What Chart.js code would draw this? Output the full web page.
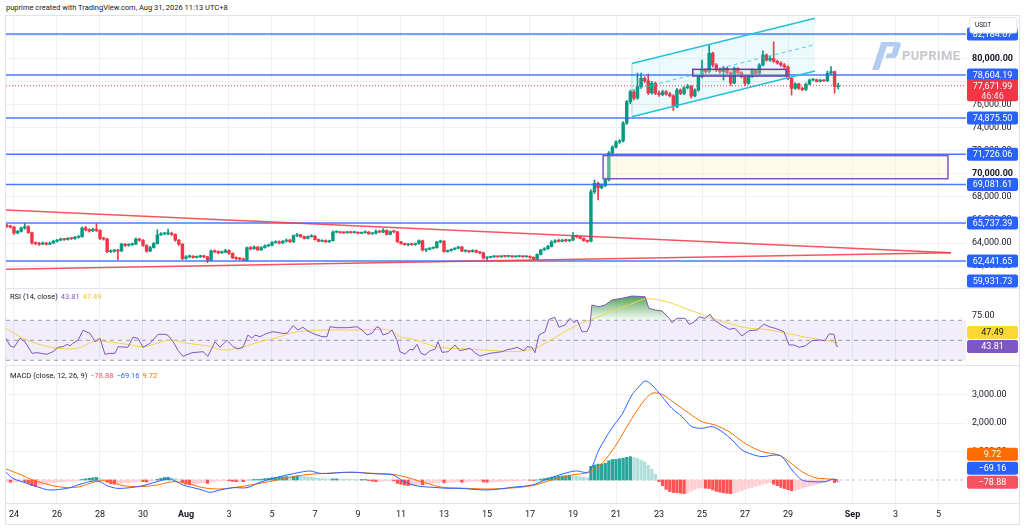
<!DOCTYPE html>
<html>
<head>
<meta charset="utf-8">
<title>BTCUSDT 4H</title>
<script src="https://cdn.jsdelivr.net/npm/chart.js@4.4.1/dist/chart.umd.min.js"></script>
<style>
  body { margin: 0; background: #fff; font-family: Roboto, "Liberation Sans", sans-serif; color: #131722; }
  #page { position: relative; width: 1024px; height: 531px; overflow: hidden; }
  #header { position: absolute; left: 6px; top: 3px; font-size: 7.5px; white-space: nowrap; }
  #frame { position: absolute; left: 5px; top: 15px; width: 1015px; height: 510px; border: 1px solid #e0e3eb; box-sizing: border-box; }
  .pane { position: absolute; left: 6px; width: 1014px; }
  #pricePane { top: 16px; height: 272px; }
  #rsiPane { top: 289px; height: 76px; }
  #macdPane { top: 366px; height: 158px; }
  .sep { position: absolute; left: 6px; width: 1013px; height: 1px; background: #e0e3eb; }
  .legend { position: absolute; left: 10px; font-size: 7.5px; white-space: nowrap; }
  .legend span { margin-left: 3px; }
  #logo { position: absolute; left: 868px; top: 40px; }
  #brand { position: absolute; left: 902px; top: 48px; font-size: 13px; font-weight: bold; color: #c4c7cc; letter-spacing: 0.3px; }
</style>
</head>
<body>
<div id="page">
  <div id="header">puprime created with TradingView.com, Aug 31, 2026 11:13 UTC+8</div>
  <div id="frame"></div>
  <div class="pane" id="pricePane"><canvas id="priceChart"></canvas></div>
  <div class="sep" style="top:288px"></div>
  <div class="pane" id="rsiPane"><canvas id="rsiChart"></canvas></div>
  <div class="sep" style="top:365px"></div>
  <div class="pane" id="macdPane"><canvas id="macdChart"></canvas></div>
  <div class="sep" style="top:503px"></div>
  <svg id="logo" width="34" height="32" viewBox="0 0 34 32">
    <polygon points="4,30 11,30 19,6 12,6" fill="#b3cdf0"/>
    <path d="M13,2 L30,2 Q33.5,2 32.5,6 L29.5,15 Q28.5,18 25,18 L17.5,18 L19,13.5 L23.5,13.5 L25.8,6.5 L12,6.5 Z" fill="#b3cdf0"/>
  </svg>
  <div id="brand">PUPRIME</div>
  <div class="legend" style="top:292px">RSI (14, close)<span style="color:#7e57c2">43.81</span><span style="color:#f2c230">47.49</span></div>
  <div class="legend" style="top:371px">MACD (close, 12, 26, 9)<span style="color:#f7525f">&minus;78.88</span><span style="color:#2962ff">&minus;69.16</span><span style="color:#ff6d00">9.72</span></div>
</div>

<script>
// ===== 4h candles, BTCUSDT, Jul 23 16:00 -> Aug 31 08:00 (x in days from Jul 24) =====
const firstCandleDay = -2 / 6;
const candleStep = 1 / 6;
const firstOpen = 65500;

const closes = [
  65450, 65380,
  64870, 65000, 65300, 65420, 64900, 64000,
  63950, 63900, 64000, 63900, 64000, 64150,
  64250, 64350, 64300, 64400, 64380, 64500,
  64550, 65300, 65150, 65050, 65200, 65100,
  64400, 64350, 63250, 63300, 63350, 63300,
  63900, 63800, 63850, 63900, 64350, 64250,
  63800, 63300, 63600, 63950, 64700, 64800,
  64800, 64850, 64750, 64250, 63900, 62650,
  62800, 62850, 62750, 62800, 62850, 62800,
  62500, 63300, 63250, 63150, 63200, 63350,
  63100, 62700, 62650, 62600, 62500, 63600,
  63500, 63650, 63400, 63600, 63750, 63800,
  64050, 64100, 64000, 64150, 64250, 64100,
  64630, 64700, 64550, 64400, 64550, 64600,
  64300, 64150, 64200, 64100, 64200, 64950,
  64950, 64900, 64880, 64950, 64900, 64920,
  64850, 64900, 64950, 64800, 64850, 65000,
  64950, 65100, 64750, 65000, 64980, 64100,
  63950, 63850, 63900, 63850, 63950, 64200,
  63400, 63450, 63550, 63600, 64100, 64150,
  63250, 63350, 63450, 63550, 63650, 63300,
  63300, 63250, 63350, 63200, 63150, 62700,
  62750, 62800, 62820, 62800, 62850, 62830,
  62850, 62800, 62820, 62850, 62800, 62830,
  62750, 62600, 63000, 63400, 63500, 63700,
  64100, 64200, 64150, 64250, 64200, 64250,
  64600, 64550, 64400, 64200, 64150, 68460,
  69190, 68800, 69000, 69500, 71830, 72350,
  72780, 72870, 74430, 76290, 77160, 76600,
  77590, 78320, 78100, 77050, 77900, 77020,
  76900, 77150, 76950, 76800, 75850, 77300,
  77000, 77500, 77650, 76780, 77300, 78460,
  79040, 78900, 80500, 79480, 79040, 78900,
  79200, 78800, 77900, 79190, 78800, 78460,
  77890, 78460, 79040, 78750, 79480, 80350,
  79910, 80050, 79800, 79650, 79480, 79300,
  78320, 77450, 77830, 77450, 77350, 77800,
  78170, 78200, 78050, 78150, 78100, 78760,
  78900, 77600, 77671.99
];

const highs = [
  65650, 65550,
  65450, 65100, 65380, 65700, 65500, 64950,
  64100, 64050, 64100, 64050, 64080, 64250,
  64320, 64420, 64400, 64480, 64450, 64580,
  64650, 65400, 65450, 65250, 65300, 65700,
  65150, 64500, 64400, 63400, 63450, 63450,
  63980, 63950, 63950, 64000, 64450, 64420,
  64300, 63850, 63700, 64050, 65150, 64900,
  64900, 65200, 64950, 64800, 64300, 63950,
  62900, 62950, 62900, 62880, 62950, 62920,
  62850, 63400, 63400, 63320, 63300, 63450,
  63400, 63150, 62800, 62750, 62700, 63650,
  63700, 63750, 63700, 63680, 63850, 63900,
  64120, 64200, 64180, 64220, 64350, 64320,
  64700, 64850, 64750, 64600, 64620, 64720,
  64650, 64350, 64280, 64280, 64250, 65050,
  65050, 65000, 64980, 65020, 65000, 65000,
  64980, 64950, 65050, 65000, 64900, 65150,
  65100, 65250, 65150, 65050, 65080, 65000,
  64150, 64000, 63950, 63980, 64000, 64280,
  64250, 63500, 63600, 63650, 64150, 64250,
  64200, 63400, 63500, 63600, 63720, 63700,
  63400, 63350, 63420, 63400, 63250, 63200,
  62800, 62850, 62880, 62870, 62900, 62900,
  62900, 62900, 62870, 62900, 62900, 62880,
  62880, 62800, 63050, 63450, 63600, 63800,
  64200, 64300, 64350, 64320, 64350, 64300,
  64900, 64700, 64600, 64450, 64250, 68650,
  69480, 69300, 69150, 69650, 71950, 72450,
  72900, 73000, 74550, 76400, 77300, 77250,
  78780, 78780, 78450, 78700, 78050, 78000,
  77200, 77300, 77250, 77100, 76900, 77450,
  77400, 77600, 77800, 77700, 77400, 78550,
  79910, 79150, 81220, 80600, 79600, 79200,
  79350, 79300, 78900, 79300, 79250, 78900,
  78550, 78600, 79150, 79100, 79600, 80700,
  80450, 80200, 81500, 79900, 79750, 79600,
  79400, 78400, 77950, 77900, 77550, 77900,
  78250, 78300, 78250, 78250, 78200, 78950,
  79330, 78950, 77900
];

const lows = [
  65350, 65300,
  64750, 64800, 64950, 65200, 64850, 63900,
  63850, 63800, 63850, 63820, 63850, 63950,
  64080, 64200, 64220, 64250, 64300, 64320,
  64420, 64500, 65050, 64950, 65000, 65000,
  64300, 64250, 63150, 63150, 63200, 62560,
  63250, 63700, 63720, 63780, 63850, 64150,
  63700, 63200, 63250, 63550, 63900, 64650,
  64700, 64700, 64650, 64150, 63800, 62550,
  62600, 62720, 62680, 62700, 62740, 62720,
  62300, 62450, 63150, 63050, 63100, 63150,
  63000, 62650, 62550, 62500, 62450, 62450,
  63400, 63450, 63350, 63350, 63550, 63680,
  63750, 63980, 63920, 63950, 64080, 64050,
  64050, 64550, 64480, 64350, 64350, 64500,
  64250, 64100, 64100, 64050, 64050, 64150,
  64880, 64850, 64820, 64850, 64850, 64850,
  64800, 64800, 64850, 64750, 64750, 64800,
  64900, 64900, 64700, 64700, 64900, 64050,
  63900, 63800, 63750, 63800, 63800, 63900,
  63300, 63250, 63400, 63500, 63550, 64000,
  63200, 63200, 63300, 63400, 63500, 63250,
  63200, 63150, 63200, 63150, 63050, 62600,
  62500, 62700, 62750, 62750, 62750, 62780,
  62780, 62750, 62760, 62780, 62750, 62750,
  62650, 62500, 62550, 62950, 63350, 63450,
  63650, 64000, 64080, 64100, 64100, 64120,
  64200, 64450, 64350, 64150, 64050, 64100,
  68300, 67740, 68700, 68900, 69400, 71700,
  72250, 72650, 72800, 74300, 76100, 76450,
  76500, 77450, 77950, 76900, 76950, 76900,
  76750, 76800, 76850, 76700, 75520, 75750,
  76900, 76900, 77400, 76600, 76700, 77200,
  78350, 78750, 78800, 79300, 78900, 78750,
  78170, 78700, 77700, 77850, 78700, 78350,
  77700, 77800, 78400, 78600, 78650, 79400,
  79800, 79800, 79700, 79550, 79350, 79200,
  78200, 76870, 77350, 77350, 77250, 77250,
  77750, 78100, 78000, 78000, 78050, 78050,
  78650, 77020, 77400
];

// MACD histogram, one bar per candle
const macdHist = [
  -60, -80,
  -70, -60, -50, -60, -120, -200,
  -230, -200, -170, -140, -110, -90,
  -80, -70, -60, -50, -40, -30,
  -20, 20, 40, 60, 80, 90,
  60, 20, -80, -130, -150, -140,
  -120, -100, -90, -80, -70, -50,
  -60, -70, -50, -30, 20, 60,
  90, 100, 80, 50, 10, -100,
  -150, -160, -150, -130, -110, -100,
  -120, -60, -50, -40, -30, -20,
  -30, -50, -60, -55, -60, -20,
  0, 20, 20, 30, 50, 60,
  80, 90, 100, 110, 120, 110,
  130, 140, 130, 120, 110, 100,
  80, 60, 50, 40, 30, 40,
  40, 35, 30, 25, 20, 15,
  10, 15, 20, -20, -40, -60,
  -50, -40, -30, -20, -30, -120,
  -150, -180, -200, -190, -170, -150,
  -170, -150, -130, -110, -90, -80,
  -100, -90, -80, -70, -60, -80,
  -70, -60, -50, -50, -40, -70,
  -80, -75, -70, -60, -50, -45,
  -40, -35, -30, -20, -10, -5,
  -10, -20, 0, 30, 50, 70,
  100, 110, 130, 140, 150, 160,
  150, 140, 120, 100, 80, 480,
  530, 560, 560, 590, 680, 720,
  730, 750, 770, 800, 822, 790,
  760, 700, 640, 520, 380, 200,
  -60, -200, -330, -410, -440, -450,
  -470, -480, -450, -400, -330, -290,
  -280, -290, -300, -350, -400, -430,
  -450, -470, -480, -460, -420, -380,
  -330, -290, -260, -220, -190, -150,
  -120, -100, -150, -200, -260, -300,
  -340, -380, -360, -330, -290, -250,
  -220, -190, -150, -120, -90, -60,
  -40, -90, -78.88
];

// [day, value]
const macdLine = [
  [-0.37, 270], [-0.05, 59], [0.6, -117], [1.21, -270], [1.67, -352], [2.47, -293], [3.07, -153],
  [3.67, -35], [4.0, -59], [4.33, -200], [4.79, -293], [5.4, -270], [6.0, -200], [6.65, -59],
  [7.12, 35], [7.4, 0], [7.86, -176], [8.65, -329], [9.12, -434], [9.58, -352], [10.19, -270],
  [10.84, -270], [11.44, -82], [12.05, 59], [12.7, 176], [13.3, 270], [13.77, 317], [14.23, 235],
  [14.7, 235], [15.3, 270], [15.95, 270], [16.42, 235], [17.02, 211], [17.63, 176], [18.09, -35],
  [18.56, -176], [19.02, -235], [19.49, -258], [20.14, -293], [20.74, -293], [21.35, -329],
  [22.0, -352], [22.6, -317], [23.16, -260], [24.1, -176], [24.7, 0], [25.35, 176], [26.1, 317],
  [26.74, 293], [27.2, 1057], [27.8, 1820], [28.28, 2313], [28.74, 2994], [29.07, 3287],
  [29.35, 3487], [29.67, 3346], [30.14, 2935], [30.6, 2524], [31.07, 2230], [31.53, 1878],
  [32.0, 1820], [32.47, 1878], [32.93, 1702], [33.4, 1409], [33.86, 1057], [34.33, 904],
  [34.79, 822], [35.4, 880], [35.72, 822], [36.19, 352], [36.65, 0], [37.12, -59], [37.72, -59],
  [38.14, 35], [38.33, -69.16]
];

const signalLine = [
  [-0.37, 387], [0.28, 200], [0.88, 0], [1.67, -176], [2.47, -270], [3.07, -235], [3.67, -82],
  [4.0, -23], [4.47, -59], [5.07, -200], [5.86, -235], [6.65, -176], [7.4, -59], [8.05, -117],
  [8.79, -270], [9.58, -317], [10.51, -235], [11.44, -117], [12.23, 0], [12.98, 117], [13.77, 200],
  [14.56, 235], [15.77, 270], [16.7, 235], [17.63, 200], [18.42, 60], [19.21, -120], [19.95, -258],
  [21.07, -293], [22.0, -317], [23.16, -280], [24.1, -200], [25.02, 0], [25.95, 176], [26.74, 270],
  [27.35, 587], [27.95, 1174], [28.6, 1996], [29.21, 2700], [29.67, 3052], [30.14, 3017],
  [30.74, 2700], [31.4, 2348], [32.0, 2054], [32.6, 1937], [33.26, 1702], [34.0, 1291],
  [34.79, 998], [35.58, 880], [36.05, 646], [36.65, 293], [37.26, 82], [37.91, 35], [38.33, 9.72]
];

const rsiLine = [
  [-0.37, 52], [-0.19, 44.6], [0, 43], [0.28, 52], [0.51, 48.6], [0.84, 37], [1.07, 37.6],
  [1.53, 36], [1.81, 38.6], [2.05, 43], [2.28, 43.6], [2.47, 46], [2.6, 44.3], [2.74, 47],
  [2.98, 50], [3.21, 60], [3.53, 57], [3.77, 48.6], [4.0, 52], [4.23, 36], [4.47, 37], [4.7, 37],
  [4.84, 43.6], [5.3, 43], [5.53, 53], [5.77, 52], [6.0, 43], [6.33, 47], [6.7, 56], [7.02, 56],
  [7.16, 55], [7.4, 48.6], [7.63, 40], [7.86, 34], [8.28, 37.6], [8.79, 38.6], [9.02, 34],
  [9.35, 48.6], [9.58, 43], [9.91, 50], [10.19, 43.6], [10.42, 41.3], [10.65, 43], [10.88, 55.3],
  [11.07, 52], [11.21, 55.3], [11.44, 53.6], [11.77, 57], [12.05, 58.6], [12.47, 57], [12.7, 57],
  [12.98, 64.6], [13.21, 60.3], [13.44, 63], [13.67, 59.3], [14.0, 56], [14.33, 53.6],
  [14.56, 53.6], [14.7, 63.6], [15.02, 62.6], [15.53, 62.6], [15.95, 63.6], [16.19, 60.3],
  [16.42, 55.3], [16.65, 57], [16.88, 63.6], [17.02, 62], [17.16, 55.3], [17.4, 57], [17.58, 60.3],
  [17.81, 50.3], [17.95, 38.6], [18.19, 36.3], [18.42, 41], [18.56, 40.3], [18.74, 46], [18.93, 37],
  [19.12, 35.3], [19.35, 39.6], [19.58, 41], [19.72, 48.6], [19.91, 38], [20.19, 38.6],
  [20.51, 45.3], [20.74, 39.6], [21.21, 42], [21.44, 37.6], [21.67, 34.3], [22.14, 37],
  [22.7, 38.6], [22.98, 41], [23.16, 41.3], [23.4, 43], [23.72, 39.6], [23.86, 43.6], [24.09, 43],
  [24.23, 37.6], [24.42, 55.3], [24.7, 58.6], [24.88, 71], [25.16, 73], [25.35, 63], [25.63, 65.3],
  [25.86, 72], [26.05, 67.6], [26.19, 70.3], [26.42, 58.6], [26.65, 58.6], [26.79, 65.3],
  [26.88, 85.3], [27.21, 83.6], [27.49, 85.3], [27.81, 90.3], [28.28, 92], [28.74, 94.3],
  [29.35, 93.6], [29.53, 82], [29.81, 80.3], [30.14, 79.3], [30.47, 72], [30.6, 67.6], [30.84, 72],
  [31.21, 72], [31.4, 66], [31.63, 68], [31.86, 73.6], [32.14, 72], [32.37, 76], [32.56, 70.3],
  [32.84, 66.3], [33.26, 61], [33.53, 62], [33.86, 54.3], [34.19, 59.6], [34.56, 60.3],
  [34.88, 66.3], [35.12, 63.6], [35.4, 62], [35.81, 58.6], [36.05, 45.3], [36.28, 45.3],
  [36.51, 43], [36.79, 44.3], [37.12, 49.6], [37.44, 50.3], [37.72, 49.6], [37.91, 56.3],
  [38.14, 56], [38.25, 44.3], [38.33, 43.81]
];

const rsiMa = [
  [-0.37, 61.9], [0.28, 53.6], [0.88, 48], [1.81, 42.6], [2.93, 42], [3.67, 48.6], [4.0, 49.3],
  [5.26, 46], [6.0, 43.6], [6.65, 47], [7.26, 50.3], [8.05, 47], [8.98, 44.6], [9.72, 40.3],
  [10.51, 42.6], [11.44, 48.6], [12.23, 52.6], [12.84, 57], [13.63, 59.6], [14.84, 60.3],
  [16.09, 60.3], [17.16, 61], [17.58, 59.3], [17.95, 53.6], [18.56, 51], [19.49, 44.3], [20.28, 42],
  [21.07, 41.3], [21.81, 40.3], [22.6, 39.3], [23.16, 38.6], [24.09, 41], [24.7, 47], [25.49, 57],
  [26.28, 66], [27.02, 72], [27.81, 79.3], [28.6, 85.3], [29.35, 91.3], [30.0, 90.3], [30.6, 87],
  [31.21, 82], [31.86, 77], [32.47, 72], [33.26, 67], [34.0, 62.6], [34.93, 61], [35.58, 58.6],
  [36.33, 55.3], [37.12, 52], [37.91, 49.3], [38.33, 47.49]
];

// horizontal levels drawn on the price pane
const levels = [82184.07, 78604.19, 74875.50, 71726.06, 69081.61, 65737.39, 62441.65, 59931.73];
const lastPrice = 77671.99;
const countdown = '46:46';

// drawings, anchors in [day, price]
const channelUpper = [[28.74, 79600], [37.26, 83550]];
const channelLower = [[28.74, 74980], [37.26, 78950]];
const channelMid = [[28.74, 77290], [37.26, 81250]];
const triangleUpper = [[-0.37, 66870], [43.58, 63160]];
const triangleLower = [[-0.37, 61710], [43.58, 63160]];
const boxSmall = [31.57, 79100, 35.91, 78520];
const boxLarge = [27.4, 71600, 43.44, 69590];

// axes
const tickDays = [0, 2, 4, 6, 8, 10, 12, 14, 16, 18, 20, 22, 24, 26, 28, 30, 32, 34, 36, 39, 41, 43];
const tickLabels = ['24', '26', '28', '30', 'Aug', '3', '5', '7', '9', '11', '13', '15', '17', '19', '21', '23', '25', '27', '29', 'Sep', '3', '5'];
const priceTicks = [62000, 64000, 66000, 68000, 70000, 72000, 74000, 76000, 78000, 80000, 82000];
const rsiTicks = [75];
const macdTicks = [1000, 2000, 3000];
const xMin = -0.372, xMax = 44.279;

const UP = '#089981', DOWN = '#f23645';
const FONT = 'Roboto, "Liberation Sans", sans-serif';
Chart.defaults.font.family = FONT;
Chart.defaults.font.size = 9;
Chart.defaults.color = '#131722';
Chart.defaults.animation = false;
Chart.defaults.events = [];
Chart.defaults.plugins.legend.display = false;
Chart.defaults.plugins.tooltip.enabled = false;

const fmt = v => v.toLocaleString('en-US', { minimumFractionDigits: 2, maximumFractionDigits: 2 });

// candles: open is the previous candle's close
const candleDays = closes.map((_, i) => firstCandleDay + i * candleStep);
const opens = closes.map((c, i) => (i === 0 ? firstOpen : closes[i - 1]));
const candleColors = closes.map((c, i) => (c >= opens[i] ? UP : DOWN));

function xAxis(showLabels) {
  return {
    type: 'linear', min: xMin, max: xMax, offset: false,
    afterBuildTicks: s => { s.ticks = tickDays.map(v => ({ value: v })); },
    grid: { color: '#eef0f4', drawTicks: false, offset: false },
    border: { display: false },
    ticks: {
      display: showLabels, autoSkip: false, maxRotation: 0, padding: 6,
      font: c => ({ size: 9, weight: /[A-Z]/.test(tickLabels[c.index] || '') ? 'bold' : 'normal' }),
      callback: (v, i) => tickLabels[i]
    },
    afterFit: s => { s.height = showLabels ? 21 : 0; s.paddingLeft = 0; s.paddingRight = 0; }
  };
}

function yAxis(min, max, ticks, showGrid, boldEvery) {
  return {
    position: 'right', min, max,
    afterBuildTicks: s => { s.ticks = ticks.map(v => ({ value: v })); },
    grid: { display: showGrid, color: '#eef0f4', drawTicks: false },
    border: { display: false },
    ticks: {
      padding: 6,
      font: c => ({ size: 9, weight: boldEvery && c.tick && c.tick.value % boldEvery === 0 ? 'bold' : 'normal' }),
      callback: v => fmt(v)
    },
    afterFit: s => { s.width = 54; s.paddingTop = 0; s.paddingBottom = 0; }
  };
}

// right-edge value tags, pushed up when they would overlap
function drawTags(chart, tags, stack) {
  const { ctx, chartArea } = chart;
  const ys = chart.scales.y;
  const items = tags.map(t => ({ ...t, py: Math.min(ys.getPixelForValue(t.value), chartArea.bottom - 7) }));
  if (stack) {
    items.sort((a, b) => b.py - a.py);
    for (let i = 1; i < items.length; i++) {
      items[i].py = Math.min(items[i].py, items[i - 1].py - 14);
    }
  }
  ctx.save();
  items.forEach(t => {
    const x0 = chartArea.right + 1, w = 51;
    const top = t.py - 6.5, h = t.sub ? 22 : 13;
    ctx.fillStyle = t.bg;
    ctx.beginPath();
    ctx.roundRect(x0, top, w, h, 2);
    ctx.fill();
    ctx.fillStyle = t.fg || '#fff';
    ctx.font = '9px ' + FONT;
    ctx.textAlign = 'center';
    ctx.textBaseline = 'middle';
    ctx.fillText(t.text, x0 + w / 2, t.py + 0.5);
    if (t.sub) {
      ctx.fillStyle = 'rgba(255,255,255,0.85)';
      ctx.fillText(t.sub, x0 + w / 2, t.py + 10.5);
    }
  });
  ctx.restore();
}

function segment(ctx, xs, ys, pts) {
  ctx.beginPath();
  ctx.moveTo(xs.getPixelForValue(pts[0][0]), ys.getPixelForValue(pts[0][1]));
  ctx.lineTo(xs.getPixelForValue(pts[1][0]), ys.getPixelForValue(pts[1][1]));
  ctx.stroke();
}

const priceDrawings = {
  id: 'priceDrawings',
  afterDatasetsDraw(chart) {
    const { ctx, chartArea: a, scales: { x, y } } = chart;
    ctx.save();
    ctx.beginPath();
    ctx.rect(a.left, a.top, a.width, a.height);
    ctx.clip();

    // large zone
    let bx0 = x.getPixelForValue(boxLarge[0]), by0 = y.getPixelForValue(boxLarge[1]);
    let bx1 = x.getPixelForValue(boxLarge[2]), by1 = y.getPixelForValue(boxLarge[3]);
    ctx.fillStyle = 'rgba(255, 243, 196, 0.35)';
    ctx.fillRect(bx0, by0, bx1 - bx0, by1 - by0);
    ctx.strokeStyle = '#7e57c2';
    ctx.lineWidth = 1.5;
    ctx.strokeRect(bx0, by0, bx1 - bx0, by1 - by0);

    // horizontal levels
    ctx.strokeStyle = 'rgba(41, 98, 255, 0.85)';
    ctx.lineWidth = 1.5;
    levels.forEach(v => {
      const py = y.getPixelForValue(v);
      ctx.beginPath(); ctx.moveTo(a.left, py); ctx.lineTo(a.right, py); ctx.stroke();
    });

    // triangle
    ctx.strokeStyle = 'rgba(242, 54, 69, 0.85)';
    ctx.lineWidth = 1.5;
    segment(ctx, x, y, triangleUpper);
    segment(ctx, x, y, triangleLower);

    // parallel channel
    const p = pt => [x.getPixelForValue(pt[0]), y.getPixelForValue(pt[1])];
    const u0 = p(channelUpper[0]), u1 = p(channelUpper[1]);
    const l0 = p(channelLower[0]), l1 = p(channelLower[1]);
    ctx.fillStyle = 'rgba(0, 188, 212, 0.07)';
    ctx.beginPath();
    ctx.moveTo(u0[0], u0[1]); ctx.lineTo(u1[0], u1[1]); ctx.lineTo(l1[0], l1[1]); ctx.lineTo(l0[0], l0[1]);
    ctx.closePath(); ctx.fill();
    ctx.strokeStyle = 'rgba(0, 150, 136, 0.35)';
    ctx.lineWidth = 1;
    ctx.beginPath(); ctx.moveTo(u0[0], u0[1]); ctx.lineTo(l0[0], l0[1]); ctx.stroke();
    ctx.strokeStyle = '#22c3da';
    ctx.lineWidth = 1.5;
    segment(ctx, x, y, channelUpper);
    segment(ctx, x, y, channelLower);
    ctx.setLineDash([4, 3]);
    ctx.lineWidth = 1;
    ctx.strokeStyle = 'rgba(34, 195, 218, 0.8)';
    segment(ctx, x, y, channelMid);
    ctx.setLineDash([]);

    // small zone
    bx0 = x.getPixelForValue(boxSmall[0]); by0 = y.getPixelForValue(boxSmall[1]);
    bx1 = x.getPixelForValue(boxSmall[2]); by1 = y.getPixelForValue(boxSmall[3]);
    ctx.fillStyle = 'rgba(205, 230, 170, 0.3)';
    ctx.fillRect(bx0, by0, bx1 - bx0, by1 - by0);
    ctx.strokeStyle = '#673ab7';
    ctx.lineWidth = 1.5;
    ctx.strokeRect(bx0, by0, bx1 - bx0, by1 - by0);

    // last price dotted line
    const lp = y.getPixelForValue(lastPrice);
    ctx.strokeStyle = DOWN;
    ctx.lineWidth = 1;
    ctx.setLineDash([1, 2]);
    ctx.beginPath(); ctx.moveTo(a.left, lp); ctx.lineTo(a.right, lp); ctx.stroke();
    ctx.restore();
  },
  afterDraw(chart) {
    const tags = levels.map(v => ({ value: v, text: fmt(v), bg: '#2962ff' }));
    drawTags(chart, tags, false);
    drawTags(chart, [{ value: lastPrice, text: fmt(lastPrice), sub: countdown, bg: DOWN }], false);
    // currency box, sits over the top tag as in the original
    const { ctx, chartArea: a } = chart;
    ctx.save();
    ctx.fillStyle = '#fff';
    ctx.strokeStyle = '#e0e3eb';
    ctx.beginPath();
    ctx.roundRect(a.right + 4, 1.5, 47, 15.5, 2);
    ctx.fill(); ctx.stroke();
    ctx.fillStyle = '#131722';
    ctx.font = '6.5px ' + FONT;
    ctx.textBaseline = 'middle';
    ctx.fillText('USDT', a.right + 9, 9);
    ctx.restore();
  }
};

new Chart(document.getElementById('priceChart'), {
  type: 'bar',
  data: {
    datasets: [
      {
        data: candleDays.map((d, i) => ({ x: d, y: [opens[i], closes[i]] })),
        backgroundColor: candleColors, barThickness: 2.8, minBarLength: 1, grouped: false, order: 0
      },
      {
        data: candleDays.map((d, i) => ({ x: d, y: [lows[i], highs[i]] })),
        backgroundColor: candleColors, barThickness: 1, grouped: false, order: 1
      }
    ]
  },
  options: {
    responsive: true, maintainAspectRatio: false,
    layout: { padding: 0 },
    scales: { x: xAxis(false), y: yAxis(60087, 83739, priceTicks, true, 10000) }
  },
  plugins: [priceDrawings]
});

// ===== RSI pane =====
const rsiDecor = {
  id: 'rsiDecor',
  beforeDatasetsDraw(chart) {
    const { ctx, chartArea: a, scales: { y } } = chart;
    const y70 = y.getPixelForValue(70), y30 = y.getPixelForValue(30), y50 = y.getPixelForValue(50);
    ctx.save();
    ctx.fillStyle = 'rgba(126, 87, 194, 0.1)';
    ctx.fillRect(a.left, y70, a.width, y30 - y70);
    ctx.strokeStyle = 'rgba(120, 123, 134, 0.7)';
    ctx.lineWidth = 1;
    ctx.setLineDash([4, 4]);
    [y70, y50, y30].forEach(py => { ctx.beginPath(); ctx.moveTo(a.left, py); ctx.lineTo(a.right, py); ctx.stroke(); });
    ctx.setLineDash([]);

    // overbought gradient between the RSI line and 70
    const pts = chart.getDatasetMeta(0).data;
    ctx.beginPath();
    ctx.rect(a.left, a.top, a.width, y70 - a.top);
    ctx.clip();
    ctx.beginPath();
    ctx.moveTo(pts[0].x, y70);
    pts.forEach(pt => ctx.lineTo(pt.x, pt.y));
    ctx.lineTo(pts[pts.length - 1].x, y70);
    ctx.closePath();
    const g = ctx.createLinearGradient(0, y.getPixelForValue(95), 0, y70);
    g.addColorStop(0, 'rgba(56, 142, 60, 0.9)');
    g.addColorStop(1, 'rgba(76, 175, 80, 0.05)');
    ctx.fillStyle = g;
    ctx.fill();
    ctx.restore();
  },
  afterDraw(chart) {
    drawTags(chart, [
      { value: rsiLine[rsiLine.length - 1][1], text: rsiLine[rsiLine.length - 1][1].toFixed(2), bg: '#7e57c2' },
      { value: rsiMa[rsiMa.length - 1][1], text: rsiMa[rsiMa.length - 1][1].toFixed(2), bg: '#fdd835', fg: '#131722' }
    ], true);
  }
};

new Chart(document.getElementById('rsiChart'), {
  type: 'line',
  data: {
    datasets: [
      { data: rsiLine.map(([x, y]) => ({ x, y })), borderColor: '#7e57c2', borderWidth: 1, pointRadius: 0, tension: 0 },
      { data: rsiMa.map(([x, y]) => ({ x, y })), borderColor: '#f7d14a', borderWidth: 1, pointRadius: 0, tension: 0.35 }
    ]
  },
  options: {
    responsive: true, maintainAspectRatio: false,
    layout: { padding: 0 },
    scales: { x: xAxis(false), y: yAxis(25.3, 101.3, rsiTicks, false, 0) }
  },
  plugins: [rsiDecor]
});

// ===== MACD pane =====
const histColors = macdHist.map((v, i) => {
  const prev = i ? macdHist[i - 1] : v;
  if (v >= 0) return v >= prev ? '#26a69a' : '#b2dfdb';
  return v < prev ? '#ff5252' : '#ffcdd2';
});

const macdDecor = {
  id: 'macdDecor',
  beforeDatasetsDraw(chart) {
    const { ctx, chartArea: a, scales: { y } } = chart;
    const y0 = y.getPixelForValue(0);
    ctx.save();
    ctx.strokeStyle = 'rgba(120, 123, 134, 0.45)';
    ctx.setLineDash([3, 3]);
    ctx.beginPath(); ctx.moveTo(a.left, y0); ctx.lineTo(a.right, y0); ctx.stroke();
    ctx.restore();
  },
  afterDraw(chart) {
    drawTags(chart, [
      { value: macdHist[macdHist.length - 1], text: fmt(macdHist[macdHist.length - 1]).replace('-', '\u2212'), bg: '#f7525f' },
      { value: macdLine[macdLine.length - 1][1], text: fmt(macdLine[macdLine.length - 1][1]).replace('-', '\u2212'), bg: '#2962ff' },
      { value: signalLine[signalLine.length - 1][1], text: fmt(signalLine[signalLine.length - 1][1]), bg: '#ff6d00' }
    ], true);
  }
};

new Chart(document.getElementById('macdChart'), {
  type: 'bar',
  data: {
    datasets: [
      { type: 'line', data: macdLine.map(([x, y]) => ({ x, y })), borderColor: '#2962ff', borderWidth: 1, pointRadius: 0, tension: 0.3, order: 0 },
      { type: 'line', data: signalLine.map(([x, y]) => ({ x, y })), borderColor: '#ff6d00', borderWidth: 1, pointRadius: 0, tension: 0.3, order: 0 },
      { type: 'bar', data: candleDays.map((d, i) => ({ x: d, y: macdHist[i] })), backgroundColor: histColors, barThickness: 2.6, grouped: false, order: 1 }
    ]
  },
  options: {
    responsive: true, maintainAspectRatio: false,
    layout: { padding: 0 },
    scales: { x: xAxis(true), y: yAxis(-810, 4014, macdTicks, true, 0) }
  },
  plugins: [macdDecor]
});
</script>
</body>
</html>
